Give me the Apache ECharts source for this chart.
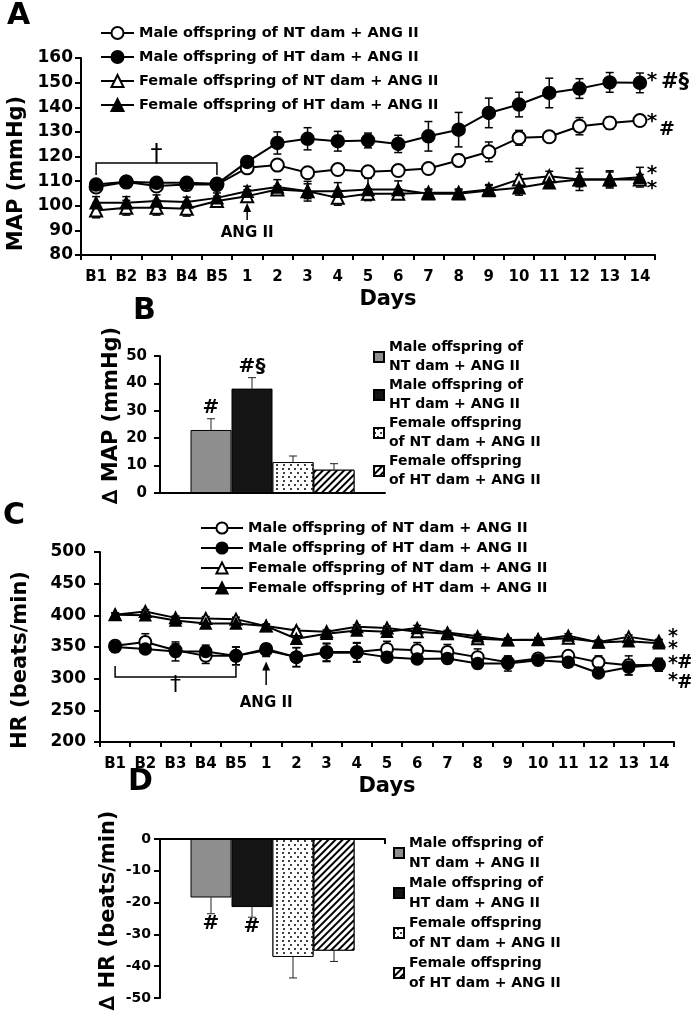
<!DOCTYPE html>
<html>
<head>
<meta charset="utf-8">
<title>MAP and HR responses to ANG II</title>
<script src="https://cdn.jsdelivr.net/npm/echarts@6/dist/echarts.min.js"></script>
<style>
html,body{margin:0;padding:0;background:#ffffff;}
#chart{width:691px;height:1015px;}
</style>
</head>
<body>
<div id="chart"></div>
<script>
// ---------------- data ----------------
const days = ['B1','B2','B3','B4','B5','1','2','3','4','5','6','7','8','9','10','11','12','13','14'];
const groupNames = [
  'Male offspring of NT dam + ANG II',
  'Male offspring of HT dam + ANG II',
  'Female offspring of NT dam + ANG II',
  'Female offspring of HT dam + ANG II'
];
// Panel A: MAP (mmHg)
const mapMaleNT      = [107.6,109.6,108.0,108.6,108.6,115.4,116.5,113.4,114.7,113.8,114.3,115.1,118.4,121.9,127.6,128.0,132.3,133.6,134.6];
const mapMaleNTErr   = [1,1,1,1,1,1.5,1.5,1,1,1,1,1,2.5,4,3,1.5,3.5,2.5,2];
const mapMaleHT      = [108.6,109.7,109.3,109.3,108.9,117.8,125.5,127.2,126.2,126.5,125.1,128.2,130.9,137.7,141.1,145.8,147.6,150.1,149.9];
const mapMaleHTErr   = [1.5,1,1.5,1.5,1.5,2,4.5,4.5,4,3,3.5,6,7,6,5,6,4,4,4];
const mapFemaleNT    = [98.1,99.2,99.2,98.8,101.9,103.9,106.6,105.9,103.2,104.9,104.9,105.3,105.3,106.6,110.7,112.0,110.7,110.7,110.7];
const mapFemaleNTErr = [3,3,3,3,2,2.5,1.5,3,3,2,2,1.5,1.5,2,2,2,3,3,2];
const mapFemaleHT    = [101.2,101.2,101.9,101.5,103.2,105.9,107.6,105.9,105.9,106.6,106.6,104.9,104.9,106.2,107.3,109.3,110.7,110.7,111.6];
const mapFemaleHTErr = [2.5,2.5,2.5,2,2,2,3,4,3.5,4.5,3.5,1.5,1.5,2,3,2,4.5,3.5,4];
// Panel C: HR (beats/min)
const hrMaleNT      = [352,358,345,336,336,347,334,342,342,347,345,342,334,326,332,336,326,321,322];
const hrMaleNTErr   = [8,13,10,12,14,6,15,14,15,12,12,12,13,8,6,8,10,15,10];
const hrMaleHT      = [350,347,343,343,336,345,334,341,341,334,331,332,324,324,329,326,309,318,322];
const hrMaleHTErr   = [8,6,15,10,14,10,15,14,15,6,6,8,8,12,8,8,6,12,10];
const hrFemaleNT    = [401,406,396,395,394,383,376,374,382,380,374,371,363,361,362,364,358,366,359];
const hrFemaleNTErr = [3,3,3,3,3,3,3,3,3,3,3,3,3,3,3,3,3,3,3];
const hrFemaleHT    = [401,400,392,387,387,383,363,371,376,374,380,373,367,361,361,368,357,359,356];
const hrFemaleHTErr = [3,3,3,3,3,3,4,4,4,4,4,3,3,3,3,3,3,3,3];
// Panels B and D: changes
const barGroupNames = [
  'Male offspring of\nNT dam + ANG II',
  'Male offspring of\nHT dam + ANG II',
  'Female offspring\nof NT dam + ANG II',
  'Female offspring\nof HT dam + ANG II'
];
const deltaMAP    = [23.0, 38.1, 11.3, 8.5];
const deltaMAPErr = [4.1, 4.0, 2.2, 2.2];
const deltaMAPSig = ['#', '#§', '', ''];
const deltaHR     = [-18.4, -21.4, -37.1, -35.1];
const deltaHRErr  = [5.1, 3.2, 6.6, 3.4];
const deltaHRSig  = ['#', '#', '', ''];

// ---------------- styling helpers ----------------
const FAM = 'DejaVu Sans';
const BLACK = '#000';
function font(size, weight) { return (weight || 'bold') + ' ' + size + 'px "' + FAM + '"'; }
function ts(size, extra) { return Object.assign({fontFamily: FAM, fontWeight: 'bold', fontSize: size, color: BLACK}, extra || {}); }

const lineSpecs = [
  {symbol: 'emptyCircle', size: 13},
  {symbol: 'circle', size: 13},
  {symbol: 'emptyTriangle', size: 12},
  {symbol: 'triangle', size: 12}
];

function lineSeries(gi, values, i, size) {
  return {
    type: 'line', name: groupNames[i], xAxisIndex: gi, yAxisIndex: gi,
    data: values, symbol: lineSpecs[i].symbol, symbolSize: size || lineSpecs[i].size,
    showAllSymbol: true, z: 3 + i, silent: true,
    lineStyle: {color: BLACK, width: 2},
    itemStyle: {color: BLACK, borderColor: BLACK, borderWidth: 1.5},
    emphasis: {disabled: true}
  };
}

function errorBarSeries(gi, values, errors, cap, width) {
  return {
    type: 'custom', xAxisIndex: gi, yAxisIndex: gi, z: 2, silent: true, clip: false,
    data: values.map((v, k) => [k, v, errors[k]]),
    encode: {x: 0, y: 1},
    renderItem: function (params, api) {
      const c = api.value(0), v = api.value(1), e = api.value(2);
      const x = api.coord([c, v])[0];
      const yHi = api.coord([c, v + e])[1];
      const yLo = api.coord([c, v - e])[1];
      const st = {stroke: BLACK, lineWidth: width};
      return {type: 'group', children: [
        {type: 'line', shape: {x1: x, y1: yLo, x2: x, y2: yHi}, style: st},
        {type: 'line', shape: {x1: x - cap, y1: yHi, x2: x + cap, y2: yHi}, style: st},
        {type: 'line', shape: {x1: x - cap, y1: yLo, x2: x + cap, y2: yLo}, style: st}
      ]};
    }
  };
}

const BAR_W = 41;
const barStyles = [
  {color: '#8e8e8e', borderColor: BLACK, borderWidth: 1},
  {color: '#141414', borderColor: BLACK, borderWidth: 1},
  {color: '#ffffff', borderColor: BLACK, borderWidth: 1,
   decal: {symbol: 'circle', symbolSize: 1, color: BLACK, backgroundColor: '#ffffff',
           dashArrayX: [[1.5, 4], [0, 2.75, 1.5, 1.25]], dashArrayY: [1.5, 1.25]}},
  {color: '#ffffff', borderColor: BLACK, borderWidth: 1,
   decal: {symbol: 'rect', symbolSize: 1, color: BLACK, backgroundColor: '#ffffff',
           dashArrayX: [1, 0], dashArrayY: [1.6, 3], rotation: -Math.PI / 4}}
];

function barSeries(gi, values) {
  return barGroupNames.map((n, i) => ({
    type: 'bar', name: n, xAxisIndex: gi, yAxisIndex: gi, data: [values[i]],
    barWidth: BAR_W, barGap: '0%', itemStyle: barStyles[i], z: 3, silent: true,
    emphasis: {disabled: true}
  }));
}

function barErrorSeries(gi, values, errors, sig, dir) {
  return {
    type: 'custom', xAxisIndex: gi, yAxisIndex: gi, z: 2, silent: true, clip: false,
    data: values.map((v, i) => [0, v, errors[i], i]),
    encode: {x: 0, y: 1},
    renderItem: function (params, api) {
      const i = api.value(3), v = api.value(1), e = api.value(2);
      let off = (i - 1.5) * BAR_W;
      try {
        const lay = api.barLayout({count: 4, barWidth: BAR_W, barGap: '0%'});
        if (lay && lay[i] && isFinite(lay[i].offsetCenter)) off = lay[i].offsetCenter;
      } catch (err) {}
      const base = api.coord([0, v]);
      const x = base[0] + off;
      const yEnd = api.coord([0, v + dir * e])[1];
      const st = {stroke: '#222', lineWidth: 1};
      const children = [
        {type: 'line', shape: {x1: x, y1: base[1], x2: x, y2: yEnd}, style: st},
        {type: 'line', shape: {x1: x - 4, y1: yEnd, x2: x + 4, y2: yEnd}, style: st}
      ];
      if (sig[i]) {
        children.push({type: 'text', x: x, y: yEnd + (dir > 0 ? -1 : 0),
          style: {text: sig[i], font: font(20), fill: BLACK, align: 'center',
                  verticalAlign: dir > 0 ? 'bottom' : 'top'}});
      }
      return {type: 'group', children: children};
    }
  };
}

// annotation layouts (in data coordinates + small pixel offsets)
const annotA = {
  bracket: {from: 0, to: 4, v: 117.4, endV: 112.5, daggerCat: 2, daggerDy: -8, daggerSize: 24},
  arrow: {cat: 5, fromV: 94.2, toV: 101.1, label: 'ANG II', labelV: 88.9},
  marks: [
    {cat: 18, v: 152.5, dx: 12, text: '*', size: 20},
    {cat: 18, v: 150.0, dx: 21, text: '#§', size: 21, align: 'left'},
    {cat: 18, v: 135.7, dx: 12, text: '*', size: 20},
    {cat: 18, v: 130.6, dx: 19, text: '#', size: 19, align: 'left'},
    {cat: 18, v: 114.6, dx: 12, text: '*', size: 20},
    {cat: 18, v: 108.5, dx: 12, text: '*', size: 20}
  ]
};
const annotC = {
  bracket: {from: 0, to: 4, v: 302.5, endV: 320, daggerCat: 2, daggerDy: 8, daggerSize: 22},
  arrow: {cat: 5, fromV: 290, toV: 327, label: 'ANG II', labelV: 261.6},
  marks: [
    {cat: 18, v: 372, dx: 14, text: '*', size: 19},
    {cat: 18, v: 353, dx: 14, text: '*', size: 19},
    {cat: 18, v: 329.5, dx: 14, text: '*', size: 19},
    {cat: 18, v: 302.7, dx: 14, text: '*', size: 19},
    {cat: 18, v: 325, dx: 18, text: '#', size: 19, align: 'left'},
    {cat: 18, v: 293, dx: 18, text: '#', size: 19, align: 'left'}
  ]
};

function annotationSeries(gi, a) {
  return {
    type: 'custom', xAxisIndex: gi, yAxisIndex: gi, z: 10, silent: true, clip: false,
    data: [[0, a.bracket.v]], encode: {x: 0, y: 1},
    renderItem: function (params, api) {
      const P = (c, v) => api.coord([c, v]);
      const st = {stroke: BLACK, lineWidth: 1.5, fill: null};
      const ch = [];
      const b = a.bracket;
      ch.push({type: 'polyline', shape: {points: [P(b.from, b.endV), P(b.from, b.v), P(b.to, b.v), P(b.to, b.endV)]}, style: st});
      const dp = P(b.daggerCat, b.v);
      ch.push({type: 'text', x: dp[0], y: dp[1] + b.daggerDy,
        style: {text: '†', font: font(b.daggerSize, 'normal'), fill: BLACK, align: 'center', verticalAlign: 'middle'}});
      const r = a.arrow;
      const t0 = P(r.cat, r.fromV), t1 = P(r.cat, r.toV);
      ch.push({type: 'line', shape: {x1: t0[0], y1: t0[1], x2: t1[0], y2: t1[1] + 6}, style: st});
      ch.push({type: 'polygon', shape: {points: [[t1[0], t1[1]], [t1[0] - 4, t1[1] + 9], [t1[0] + 4, t1[1] + 9]]}, style: {fill: BLACK}});
      const lp = P(r.cat, r.labelV);
      ch.push({type: 'text', x: lp[0], y: lp[1],
        style: {text: r.label, font: font(15), fill: BLACK, align: 'center', verticalAlign: 'middle'}});
      a.marks.forEach(m => {
        const p = P(m.cat, m.v);
        ch.push({type: 'text', x: p[0] + m.dx, y: p[1] + (m.text === '*' ? 0.22 * m.size : 0),
          style: {text: m.text, font: font(m.size), fill: BLACK, align: m.align || 'center', verticalAlign: 'middle'}});
      });
      return {type: 'group', children: ch};
    }
  };
}

function catAxis(gi, data, opts) {
  return Object.assign({
    gridIndex: gi, type: 'category', data: data, boundaryGap: true,
    axisLine: {show: true, onZero: true, lineStyle: {color: BLACK, width: 2}},
    axisTick: {show: true, length: 5, interval: 0, lineStyle: {color: BLACK, width: 2}},
    axisLabel: Object.assign({interval: 0, margin: 15, hideOverlap: false}, ts(15)),
    splitLine: {show: false}
  }, opts || {});
}
function valAxis(gi, min, max, interval, labelSize, margin, name, nameGap, namePad) {
  return {
    gridIndex: gi, type: 'value', min: min, max: max, interval: interval,
    axisLine: {show: true, lineStyle: {color: BLACK, width: 2}},
    axisTick: {show: true, length: 6, lineStyle: {color: BLACK, width: 2}},
    axisLabel: Object.assign({margin: margin}, ts(labelSize)),
    splitLine: {show: false},
    name: name, nameLocation: 'middle', nameGap: nameGap,
    nameTextStyle: ts(21, {padding: namePad})
  };
}

const chart = echarts.init(document.getElementById('chart'), null, {renderer: 'canvas'});
const option = {
  animation: false,
  backgroundColor: '#ffffff',
  textStyle: {fontFamily: FAM},
  grid: [
    {left: 81, top: 58, width: 574, height: 197, outerBoundsMode: 'none'},
    {left: 160, top: 356, width: 225, height: 137, outerBoundsMode: 'none'},
    {left: 100, top: 552, width: 574, height: 190, outerBoundsMode: 'none'},
    {left: 160, top: 839, width: 225, height: 159, outerBoundsMode: 'none'}
  ],
  xAxis: [
    catAxis(0, days, {name: 'Days', nameLocation: 'middle', nameGap: 34, nameTextStyle: ts(21, {padding: [0, 0, 0, 40]})}),
    catAxis(1, [''], {axisTick: {show: false}, axisLabel: {show: false}}),
    catAxis(2, days, {name: 'Days', nameLocation: 'middle', nameGap: 34, nameTextStyle: ts(21)}),
    catAxis(3, [''], {axisLabel: {show: false}, axisTick: {show: true, length: 5, lineStyle: {color: BLACK, width: 2}}})
  ],
  yAxis: [
    valAxis(0, 80, 160, 10, 17, 8, 'MAP (mmHg)', 50, [0, 34, 0, 0]),
    valAxis(1, 0, 50, 10, 15, 13, '∆ MAP (mmHg)', 35, [0, 0, 0, 18]),
    valAxis(2, 200, 500, 50, 17, 14, 'HR (beats/min)', 69, [0, 26, 0, 0]),
    valAxis(3, -50, 0, 10, 14, 9, '∆ HR (beats/min)', 41, [0, 0, 0, 16])
  ],
  legend: [
    {data: groupNames, orient: 'vertical', left: 100, top: 24, itemWidth: 33, itemHeight: 15, itemGap: 6,
     padding: 0, selectedMode: false, textStyle: ts(14.5, {lineHeight: 18})},
    {data: barGroupNames, orient: 'vertical', left: 373, top: 328.5, icon: 'rect', itemWidth: 10, itemHeight: 10, itemGap: -19,
     padding: 0, selectedMode: false, textStyle: ts(14, {lineHeight: 19, padding: [19, 0, 0, 0], backgroundColor: 'rgba(255,255,255,0)'})},
    {data: groupNames, orient: 'vertical', left: 200, top: 519, itemWidth: 42, itemHeight: 14, itemGap: 2,
     padding: 0, selectedMode: false, textStyle: ts(14.5, {lineHeight: 18})},
    {data: barGroupNames, orient: 'vertical', left: 393, top: 823, icon: 'rect', itemWidth: 10, itemHeight: 10, itemGap: -20,
     padding: 0, selectedMode: false, textStyle: ts(14, {lineHeight: 20, padding: [20, 0, 0, 0], backgroundColor: 'rgba(255,255,255,0)'})}
  ],
  graphic: [
    {type: 'text', left: 7, top: 1, style: {text: 'A', font: font(30), fill: BLACK}},
    {type: 'text', left: 133, top: 296, style: {text: 'B', font: font(30), fill: BLACK}},
    {type: 'text', left: 3, top: 501, style: {text: 'C', font: font(30), fill: BLACK}},
    {type: 'text', left: 128, top: 767, style: {text: 'D', font: font(30), fill: BLACK}}
  ],
  series: [
    errorBarSeries(0, mapMaleNT, mapMaleNTErr, 4, 1.5),
    errorBarSeries(0, mapMaleHT, mapMaleHTErr, 4, 1.5),
    errorBarSeries(0, mapFemaleNT, mapFemaleNTErr, 4, 1.5),
    errorBarSeries(0, mapFemaleHT, mapFemaleHTErr, 4, 1.5),
    lineSeries(0, mapMaleNT, 0),
    lineSeries(0, mapMaleHT, 1),
    lineSeries(0, mapFemaleNT, 2),
    lineSeries(0, mapFemaleHT, 3),
    annotationSeries(0, annotA),

    ...barSeries(1, deltaMAP),
    barErrorSeries(1, deltaMAP, deltaMAPErr, deltaMAPSig, 1),

    errorBarSeries(2, hrMaleNT, hrMaleNTErr, 4, 1.5),
    errorBarSeries(2, hrMaleHT, hrMaleHTErr, 4, 1.5),
    errorBarSeries(2, hrFemaleNT, hrFemaleNTErr, 4, 1.5),
    errorBarSeries(2, hrFemaleHT, hrFemaleHTErr, 4, 1.5),
    lineSeries(2, hrMaleNT, 0, 12),
    lineSeries(2, hrMaleHT, 1, 12),
    lineSeries(2, hrFemaleNT, 2, 11),
    lineSeries(2, hrFemaleHT, 3, 11),
    annotationSeries(2, annotC),

    ...barSeries(3, deltaHR),
    barErrorSeries(3, deltaHR, deltaHRErr, deltaHRSig, -1)
  ]
};
chart.setOption(option);
</script>
</body>
</html>
